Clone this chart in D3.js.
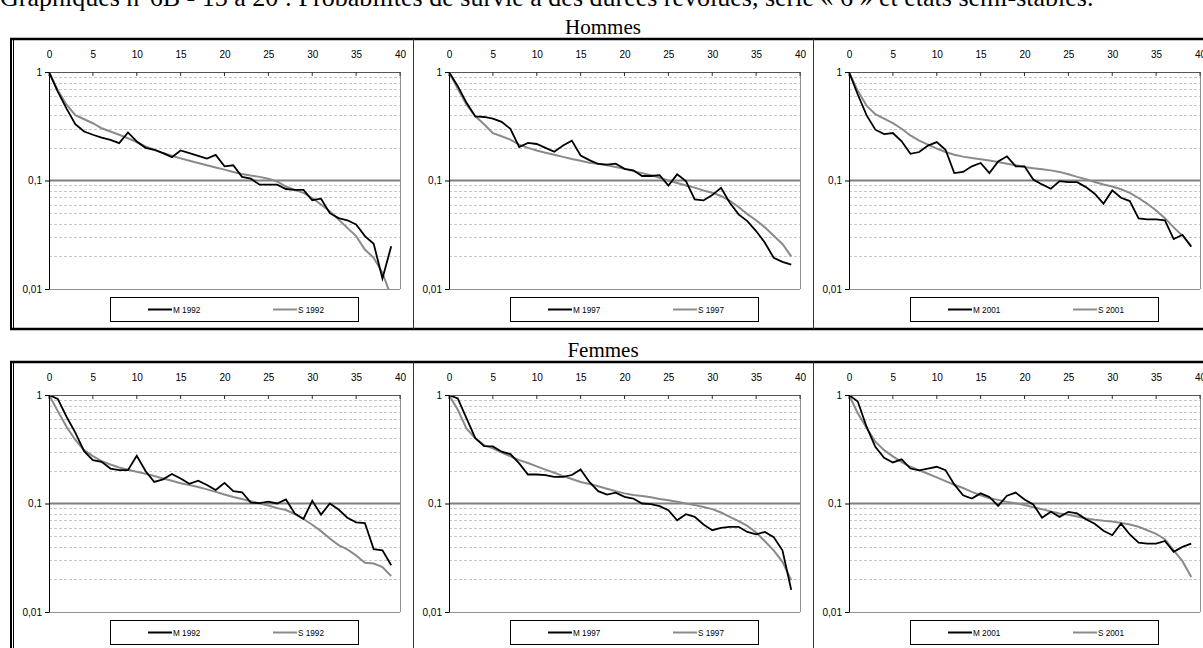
<!DOCTYPE html>
<html><head><meta charset="utf-8">
<script src="https://cdn.jsdelivr.net/npm/d3@7"></script>
<style>body{margin:0;background:#fff;overflow:hidden;} svg{display:block;}</style>
</head><body><svg id="c" width="1203" height="648"></svg>
<script>
// ---------- data ----------
const titleText = "Graphiques n°6B - 15 à 20 : Probabilités de survie à des durées révolues, série « 6 » et états semi-stables.";
const rowLabels = ["Hommes", "Femmes"];
const years = ["1992", "1997", "2001"];
const durations = [0,1,2,3,4,5,6,7,8,9,10,11,12,13,14,15,16,17,18,19,20,21,22,23,24,25,26,27,28,29,30,31,32,33,34,35,36,37,38,39];
const xTickValues = [0,5,10,15,20,25,30,35,40];
const yTickValues = [1, 0.1, 0.01];
const yTickLabels = ["1", "0,1", "0,01"];

const hommesM1992 = [1,0.66,0.46,0.33,0.283,0.264,0.249,0.237,0.221,0.277,0.229,0.20,0.192,0.179,0.164,0.189,0.179,0.169,0.159,0.172,0.135,0.138,0.108,0.104,0.0916,0.0916,0.0916,0.0835,0.082,0.082,0.0658,0.068,0.050,0.045,0.043,0.0393,0.0307,0.0261,0.0125,0.0248];
const hommesS1992 = [1,0.68,0.50,0.40,0.367,0.337,0.303,0.283,0.264,0.245,0.226,0.206,0.192,0.179,0.169,0.160,0.152,0.145,0.138,0.132,0.126,0.120,0.115,0.111,0.108,0.104,0.098,0.088,0.082,0.077,0.069,0.060,0.052,0.0436,0.0366,0.0307,0.0231,0.0194,0.0141,0.0085];
const hommesM1997 = [1,0.74,0.52,0.39,0.385,0.372,0.347,0.299,0.203,0.222,0.217,0.20,0.184,0.21,0.233,0.17,0.154,0.142,0.140,0.143,0.128,0.124,0.110,0.110,0.112,0.090,0.114,0.0986,0.0669,0.0655,0.0733,0.0857,0.0623,0.0487,0.0422,0.0342,0.0267,0.0194,0.0178,0.0168];
const hommesS1997 = [1,0.70,0.50,0.39,0.33,0.273,0.256,0.238,0.214,0.20,0.189,0.18,0.173,0.165,0.158,0.152,0.146,0.143,0.138,0.133,0.128,0.122,0.117,0.112,0.106,0.100,0.095,0.090,0.086,0.081,0.077,0.072,0.065,0.057,0.049,0.043,0.037,0.031,0.026,0.020];
const hommesM2001 = [1,0.62,0.40,0.294,0.268,0.274,0.23,0.176,0.183,0.21,0.226,0.192,0.117,0.12,0.135,0.145,0.117,0.15,0.167,0.135,0.135,0.102,0.092,0.084,0.0986,0.0966,0.0966,0.0869,0.0755,0.0611,0.081,0.0693,0.0646,0.0448,0.0438,0.0438,0.043,0.0288,0.0316,0.0245];
const hommesS2001 = [1,0.67,0.49,0.409,0.371,0.338,0.30,0.26,0.233,0.214,0.197,0.183,0.173,0.166,0.161,0.157,0.153,0.148,0.143,0.138,0.133,0.13,0.127,0.124,0.12,0.114,0.108,0.103,0.097,0.092,0.088,0.083,0.077,0.069,0.061,0.053,0.045,0.037,0.031,0.025];
const femmesM1992 = [1,0.92,0.63,0.45,0.304,0.251,0.242,0.21,0.203,0.203,0.275,0.199,0.158,0.167,0.187,0.17,0.152,0.162,0.148,0.133,0.155,0.13,0.127,0.102,0.101,0.104,0.100,0.109,0.081,0.072,0.106,0.079,0.100,0.088,0.074,0.067,0.066,0.038,0.037,0.027];
const femmesS1992 = [1,0.71,0.51,0.385,0.31,0.273,0.246,0.229,0.215,0.205,0.196,0.188,0.179,0.17,0.162,0.154,0.148,0.142,0.135,0.128,0.121,0.115,0.11,0.105,0.100,0.096,0.0906,0.087,0.080,0.072,0.0637,0.0556,0.0476,0.0414,0.0378,0.0332,0.0284,0.028,0.026,0.0214];
const femmesM1997 = [1,0.93,0.61,0.40,0.338,0.336,0.30,0.285,0.234,0.185,0.185,0.183,0.176,0.176,0.183,0.206,0.158,0.13,0.121,0.126,0.115,0.111,0.100,0.0986,0.0945,0.0868,0.070,0.0797,0.0753,0.064,0.0567,0.0596,0.061,0.061,0.0547,0.052,0.0547,0.049,0.037,0.016];
const femmesS1997 = [1,0.73,0.49,0.40,0.345,0.322,0.294,0.272,0.251,0.236,0.22,0.205,0.192,0.179,0.168,0.158,0.151,0.144,0.137,0.13,0.124,0.12,0.117,0.114,0.11,0.107,0.104,0.100,0.0966,0.093,0.0887,0.0826,0.0753,0.0687,0.0622,0.054,0.0449,0.037,0.029,0.0196];
const femmesM2001 = [1,0.87,0.51,0.333,0.264,0.239,0.255,0.21,0.202,0.21,0.218,0.203,0.15,0.119,0.111,0.124,0.115,0.095,0.118,0.126,0.109,0.098,0.0738,0.0838,0.0753,0.0838,0.081,0.0716,0.065,0.056,0.051,0.0653,0.0518,0.0436,0.0427,0.0427,0.0452,0.0358,0.0398,0.0427];
const femmesS2001 = [1,0.68,0.50,0.371,0.31,0.272,0.241,0.218,0.202,0.188,0.174,0.161,0.149,0.139,0.128,0.119,0.112,0.108,0.1035,0.1007,0.097,0.0925,0.0887,0.0844,0.081,0.0786,0.0758,0.0727,0.0707,0.0692,0.0682,0.0663,0.064,0.061,0.0567,0.0525,0.0469,0.037,0.0294,0.021];

const seriesM = [[hommesM1992, hommesM1997, hommesM2001],[femmesM1992, femmesM1997, femmesM2001]];
const seriesS = [[hommesS1992, hommesS1997, hommesS2001],[femmesS1992, femmesS1997, femmesS2001]];

// ---------- layout ----------
const svg = d3.select("#c");
const W = 1203, H = 648;
const frameTops = [39, 362];
const frameH = 290;
const panelW = 400;

svg.append("text").attr("x", 0).attr("y", 6)
  .attr("font-family", "Liberation Serif, Times New Roman, serif").attr("font-size", 26)
  .text(titleText);

const minorVals = [];
[0.1, 0.01].forEach(b => { for (let k = 2; k <= 9; k++) minorVals.push(b * k); });

rowLabels.forEach((lab, r) => {
  const ft = frameTops[r];
  svg.append("text").attr("x", 603).attr("y", ft - 5).attr("text-anchor", "middle")
    .attr("font-family", "Liberation Serif, Times New Roman, serif").attr("font-size", 21)
    .text(lab);
  // frame
  svg.append("line").attr("x1", 10).attr("x2", W + 5).attr("y1", ft).attr("y2", ft)
    .attr("stroke", "#000").attr("stroke-width", 2.5);
  svg.append("line").attr("x1", 10).attr("x2", W + 5).attr("y1", ft + frameH).attr("y2", ft + frameH)
    .attr("stroke", "#000").attr("stroke-width", 2.5);
  svg.append("line").attr("x1", 11).attr("x2", 11).attr("y1", ft - 1).attr("y2", ft + frameH + 1)
    .attr("stroke", "#000").attr("stroke-width", 2);
  svg.append("line").attr("x1", 13.5).attr("x2", 13.5).attr("y1", ft).attr("y2", ft + frameH)
    .attr("stroke", "#000").attr("stroke-width", 1);
  [413.5, 813.5].forEach(sx => {
    svg.append("line").attr("x1", sx).attr("x2", sx).attr("y1", ft).attr("y2", ft + frameH)
      .attr("stroke", "#333").attr("stroke-width", 1);
  });

  years.forEach((yr, c) => {
    const ox = c * panelW;
    const L = ox + 49, R = ox + 400;
    const T = ft + 33, B = T + 217;
    const x = d3.scaleLinear().domain([0, 40]).range([L, R]);
    const y = d3.scaleLog().domain([0.01, 1]).range([B, T]);
    const g = svg.append("g");

    // minor grid
    g.selectAll(".mg").data(minorVals).enter().append("line")
      .attr("x1", L).attr("x2", R)
      .attr("y1", d => Math.round(y(d)) + 0.5).attr("y2", d => Math.round(y(d)) + 0.5)
      .attr("stroke", "#c8c8c8").attr("stroke-width", 1).attr("stroke-dasharray", "3,2");
    // major grid at 0.1
    g.append("line").attr("x1", L).attr("x2", R).attr("y1", y(0.1)).attr("y2", y(0.1))
      .attr("stroke", "#808080").attr("stroke-width", 2);
    // plot borders right & bottom
    g.append("line").attr("x1", R + 0.5).attr("x2", R + 0.5).attr("y1", T).attr("y2", B)
      .attr("stroke", "#909090").attr("stroke-width", 1);
    g.append("line").attr("x1", L).attr("x2", R).attr("y1", B + 0.5).attr("y2", B + 0.5)
      .attr("stroke", "#909090").attr("stroke-width", 1);

    // clip
    const cid = "clip" + r + c;
    svg.append("clipPath").attr("id", cid).append("rect")
      .attr("x", L).attr("y", T).attr("width", R - L).attr("height", B - T);

    const line = d3.line().x((d, i) => x(durations[i])).y(d => y(d));
    g.append("path").datum(seriesS[r][c]).attr("d", line).attr("fill", "none")
      .attr("stroke", "#8a8a8a").attr("stroke-width", 2).attr("clip-path", `url(#${cid})`);
    g.append("path").datum(seriesM[r][c]).attr("d", line).attr("fill", "none")
      .attr("stroke", "#000").attr("stroke-width", 1.8).attr("clip-path", `url(#${cid})`);

    // top axis
    const xa = d3.axisTop(x).tickValues(xTickValues).tickSize(0).tickPadding(0).tickFormat(d3.format("d"));
    const gx = g.append("g").attr("transform", `translate(0,${T})`).call(xa);
    gx.select(".domain").attr("stroke", "#555");
    gx.selectAll("text").attr("y", -14).attr("font-family", "Liberation Sans, Arial, sans-serif")
      .attr("font-size", 10).attr("fill", "#000");
    g.selectAll(".xt").data(xTickValues).enter().append("line")
      .attr("x1", d => x(d)).attr("x2", d => x(d)).attr("y1", T).attr("y2", T + 4)
      .attr("stroke", "#333").attr("stroke-width", 1);

    // left axis
    const ya = d3.axisLeft(y).tickValues(yTickValues).tickSize(4).tickPadding(3)
      .tickFormat((d, i) => yTickLabels[i]);
    const gy = g.append("g").attr("transform", `translate(${L},0)`).call(ya);
    gy.select(".domain").attr("stroke", "#000").attr("d", `M0.5,${T}V${B + 0.5}`);
    gy.selectAll("line").attr("stroke", "#000");
    gy.selectAll("text").attr("font-family", "Liberation Sans, Arial, sans-serif")
      .attr("font-size", 10).attr("fill", "#000");

    // legend
    const lx = ox + 110.5, ly = B + 8.5;
    g.append("rect").attr("x", lx).attr("y", ly).attr("width", 248).attr("height", 24)
      .attr("fill", "#fff").attr("stroke", "#000").attr("stroke-width", 1);
    const items = [{name: "M " + yr, col: "#000", x0: ox + 148}, {name: "S " + yr, col: "#8a8a8a", x0: ox + 273}];
    items.forEach(it => {
      g.append("line").attr("x1", it.x0).attr("x2", it.x0 + 24).attr("y1", ly + 12).attr("y2", ly + 12)
        .attr("stroke", it.col).attr("stroke-width", 2);
      g.append("text").attr("x", it.x0 + 25).attr("y", ly + 15)
        .attr("font-family", "Liberation Sans, Arial, sans-serif").attr("font-size", 8.2)
        .attr("fill", "#000").text(it.name);
    });
  });
});
</script></body></html>
